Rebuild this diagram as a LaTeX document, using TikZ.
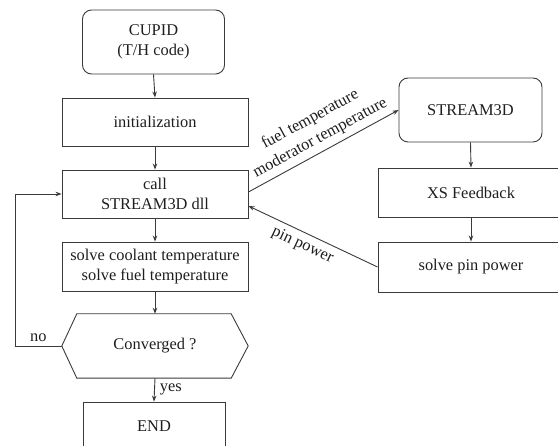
\documentclass[tikz,border=0pt]{standalone}
\usepackage{fontspec}
\setmainfont{Liberation Serif}
\usetikzlibrary{arrows.meta}
\definecolor{linecol}{HTML}{3A3A3A}
\definecolor{txtcol}{HTML}{1E1E1E}
\begin{document}
\begin{tikzpicture}[x=1pt,y=-1pt,
  box/.style={draw=linecol, line width=0.9pt, minimum width=186pt, minimum height=48pt,
    align=center, inner sep=0pt, text=txtcol, font=\fontsize{16.4}{20}\selectfont},
  rbox/.style={box, rounded corners=9pt, minimum width=142pt, minimum height=64pt},
  arr/.style={-{Stealth[length=6pt,width=4.5pt]}, draw=linecol, line width=0.9pt},
  lbl/.style={text=txtcol, font=\fontsize{16.4}{21}\selectfont, align=center}]
\path[use as bounding box, clip] (0,0) rectangle (558,446);
% left column
\node[rbox] (cupid) at (153.5,42) {CUPID\\(T/H code)};
\node[box] (init) at (155,122) {initialization};
\node[box] (call) at (155,194) {call\\STREAM3D dll};
\node[box, minimum height=49pt] (solve) at (155,266.5) {solve coolant temperature\\solve fuel temperature};
\node[lbl, minimum width=186pt, minimum height=64pt, inner sep=0pt] (conv) at (155,346) {Converged ?};
\draw[draw=linecol, line width=0.9pt] (conv.west) -- ([xshift=15pt]conv.north west) -- ([xshift=-17pt]conv.north east)
  -- (conv.east) -- ([xshift=-17pt]conv.south east) -- ([xshift=15pt]conv.south west) -- cycle;
\node[box, minimum width=142pt, minimum height=49pt] (endn) at (154,426.5) {END};
% right column
\node[rbox, minimum width=143pt] (s3d) at (470.5,110) {STREAM3D};
\node[box, minimum height=49pt] (xs) at (471,192.5) {XS Feedback};
\node[box, minimum height=50pt] (spp) at (471,267) {solve pin power};
% vertical arrows
\draw[arr] (cupid.south) -- (init.north);
\draw[arr] (init.south) -- (call.north);
\draw[arr] (call.south) -- (solve.north);
\draw[arr] (solve.south) -- (conv.north);
\draw[arr] (conv.south) -- node[lbl, right, inner sep=5pt] {yes} (endn.north);
\draw[arr] (s3d.south) -- (xs.north);
\draw[arr] (xs.south) -- (spp.north);
% loop
\coordinate (lp) at (15,346);
\draw[arr] (conv.west) -- node[lbl, above, pos=0.5, yshift=1pt] {no} (lp) |- (call.west);
% coupling arrows
\draw[arr] ([yshift=2pt]call.east) -- node[lbl, pos=0.52, sloped, above, inner sep=5pt] {fuel temperature\\moderator temperature} (s3d.west);
\draw[arr] (spp.west) -- node[lbl, pos=0.54, sloped, below, inner sep=5pt] {pin power} ([yshift=-12pt]call.east);
\end{tikzpicture}
\end{document}
